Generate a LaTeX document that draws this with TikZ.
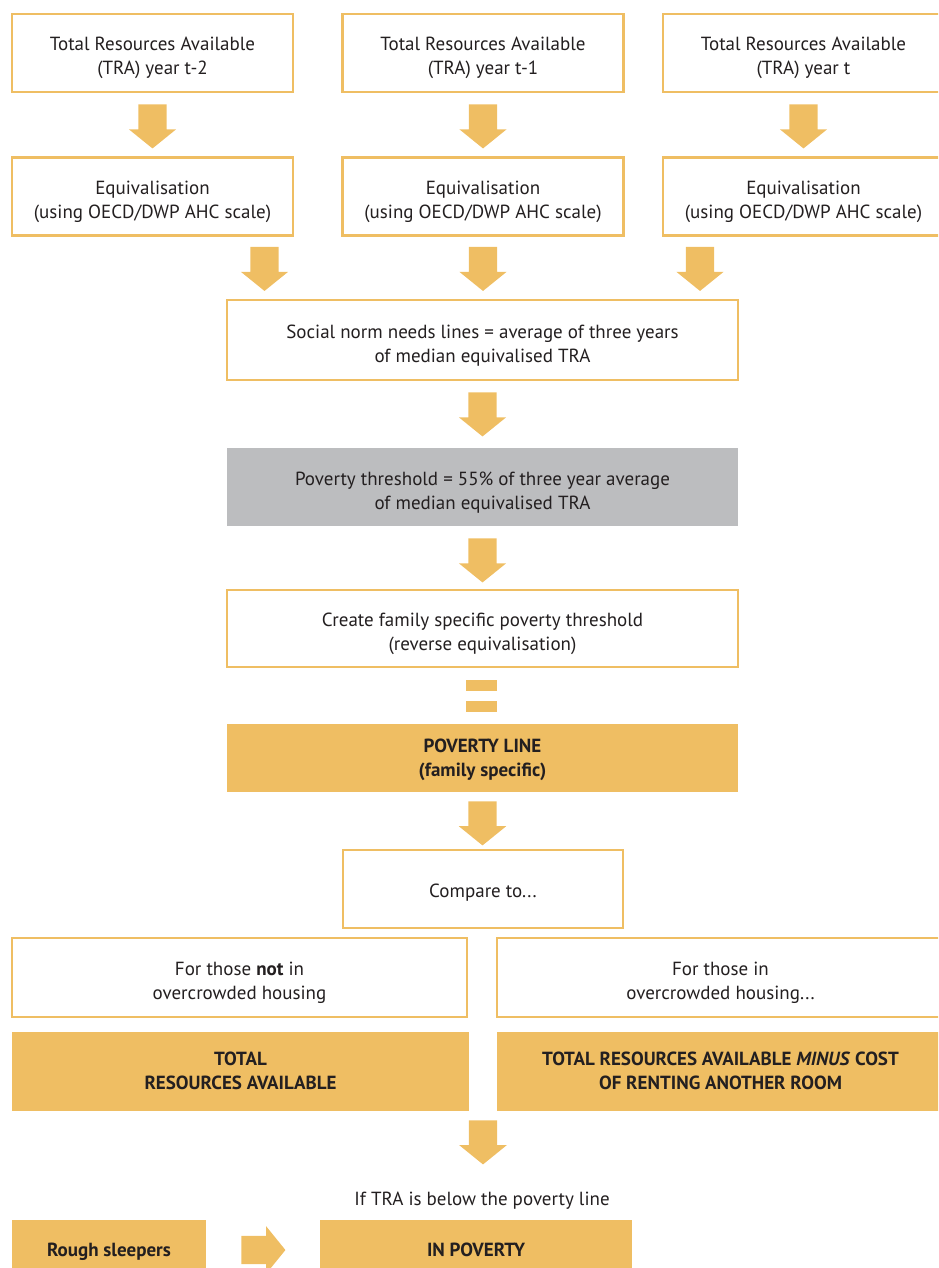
\documentclass[tikz,border=0pt]{standalone}
\usepackage{fontspec}
\setmainfont{PT Sans}
\usetikzlibrary{shapes.arrows,calc}
\definecolor{gold}{HTML}{EFBE63}
\definecolor{thgray}{HTML}{BCBDBF}
\definecolor{ink}{HTML}{231F20}

\begin{document}
\begin{tikzpicture}[x=1pt,y=1pt,
  cell/.style={align=center,text=ink,minimum height=78,inner sep=0,font=\fontsize{19}{24}\selectfont},
  box/.style={cell,draw=gold,line width=2.5,fill=white,text height=48pt},
  goldbox/.style={cell,fill=gold,text depth=1pt,font=\fontsize{19}{24}\selectfont\bfseries},
  darr/.style={single arrow,shape border rotate=270,fill=gold,anchor=tail,minimum height=44,minimum width=47,single arrow head extend=9.5,single arrow tip angle=102,inner xsep=14,inner ysep=0},
  rarr/.style={darr,shape border rotate=0,inner xsep=0,inner ysep=14},
  bar/.style={fill=gold,minimum width=31,minimum height=11,inner sep=0}]
  \useasboundingbox (0,0) rectangle (938,-1268);
  \clip (0,0) rectangle (938,-1268);

  \node[box,minimum width=281] (tra1) at (152.5,-53) {Total Resources Available\\(TRA) year t-2};
  \node[box,minimum width=281] (tra2) at (483,-53) {Total Resources Available\\(TRA) year t-1};
  \node[box,minimum width=281] (tra3) at (803.5,-53) {Total Resources Available\\(TRA) year t};
  \node[box,minimum width=281] (eq1) at (152.5,-196.5) {Equivalisation\\(using OECD/DWP AHC scale)};
  \node[box,minimum width=281] (eq2) at (483,-196.5) {Equivalisation\\(using OECD/DWP AHC scale)};
  \node[box,minimum width=281] (eq3) at (803.5,-196.5) {Equivalisation\\(using OECD/DWP AHC scale)};
  \node[box,minimum width=511,minimum height=80] (norm) at (482.5,-340) {Social norm needs lines = average of three years\\of median equivalised TRA};
  \node[box,draw=none,fill=thgray,minimum width=511] (thresh) at (482.5,-487) {Poverty threshold = 55\% of three year average\\of median equivalised TRA};
  \node[box,minimum width=511,minimum height=77] (fam) at (482.5,-628.5) {Create family specific poverty threshold\\(reverse equivalisation)};
  \node[bar] (eqa) at (481.5,-685.5) {};
  \node[bar] (eqb) at (481.5,-706.5) {};
  \node[goldbox,minimum width=511,minimum height=68] (pline) at (482.5,-758) {POVERTY LINE\\(family specific)};
  \node[box,text height=20pt,minimum width=280] (cmp) at (483,-889) {Compare to...};
  \node[box,minimum width=455,minimum height=79] (notc) at (239.5,-977.5) {For those \textbf{not} in\\overcrowded housing};
  \node[box,minimum width=447,minimum height=79] (crowd) at (720.5,-977.5) {For those in\\overcrowded housing...};
  \node[goldbox,minimum width=457,minimum height=79] (tot) at (240.5,-1071.5) {TOTAL\\RESOURCES AVAILABLE};
  \node[goldbox,minimum width=447,minimum height=79] (totm) at (720.5,-1071.5) {TOTAL RESOURCES AVAILABLE \textit{MINUS} COST\\OF RENTING ANOTHER ROOM};
  \node[text=ink,font=\fontsize{19}{24}\selectfont] (cond) at (482,-1201) {If TRA is below the poverty line};
  \node[goldbox,minimum width=194,minimum height=60] (rough) at (109,-1250) {Rough sleepers};
  \node[goldbox,minimum width=312,minimum height=60] (pov) at (476,-1250) {IN POVERTY};

  \node[darr] (a1) at ([yshift=-11]tra1.south) {};
  \node[darr] (a2) at ([yshift=-11]tra2.south) {};
  \node[darr] (a3) at ([yshift=-11]tra3.south) {};
  \node[darr] (b1) at ([xshift=112,yshift=-10]eq1.south) {};
  \node[darr] (b2) at ([yshift=-10]eq2.south) {};
  \node[darr] (b3) at ([xshift=-103.5,yshift=-10]eq3.south) {};
  \node[darr] (c1) at ([yshift=-11]norm.south) {};
  \node[darr] (c2) at ([yshift=-11]thresh.south) {};
  \node[darr] (c3) at ([yshift=-9]pline.south) {};
  \node[darr] (c4) at ([yshift=-9]$(tot.south east)!.5!(totm.south west)$) {};
  \node[rarr] (c5) at ([xshift=35]rough.east) {};
\end{tikzpicture}
\end{document}
